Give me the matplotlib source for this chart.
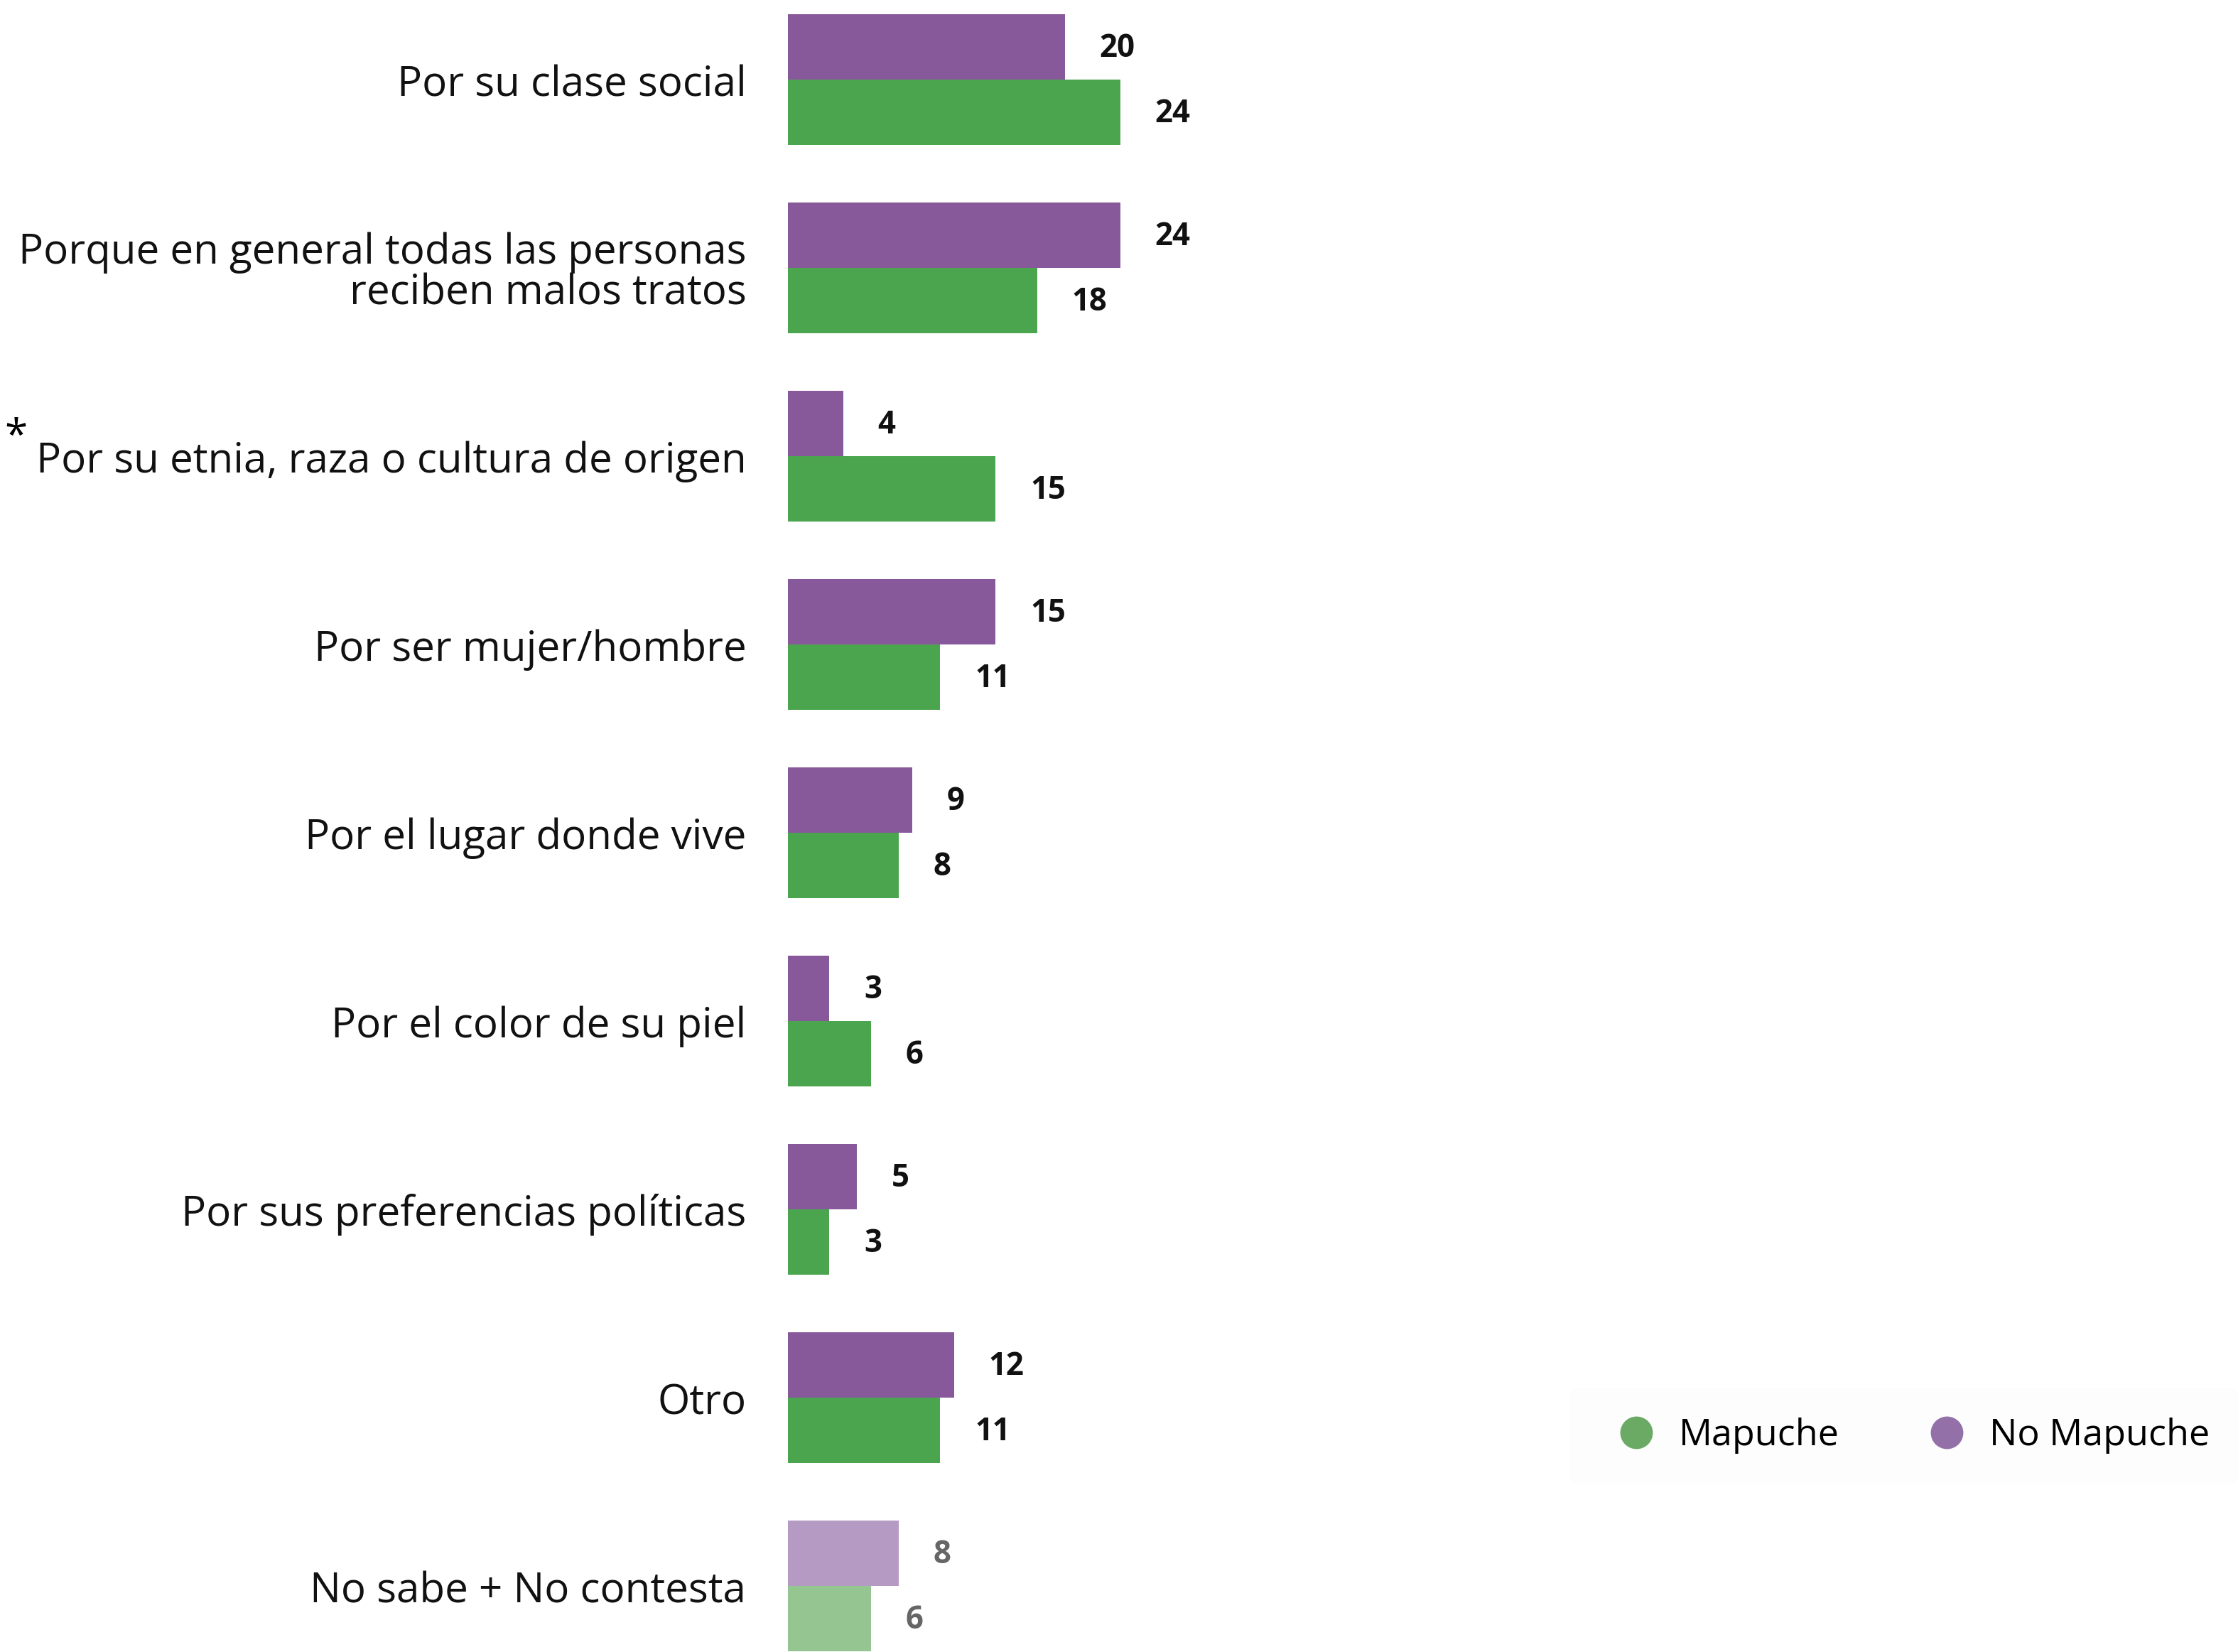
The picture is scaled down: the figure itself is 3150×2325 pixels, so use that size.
import matplotlib.pyplot as plt
from matplotlib.lines import Line2D
import numpy as np

plt.rcParams['font.family'] = ['Open Sans', 'DejaVu Sans']

categories = [
    "Por su clase social",
    "Porque en general todas las personas\nreciben malos tratos",
    "Por su etnia, raza o cultura de origen",
    "Por ser mujer/hombre",
    "Por el lugar donde vive",
    "Por el color de su piel",
    "Por sus preferencias políticas",
    "Otro",
    "No sabe + No contesta",
]
no_mapuche = [20, 24, 4, 15, 9, 3, 5, 12, 8]
mapuche = [24, 18, 15, 11, 8, 6, 3, 11, 6]
starred = [2]
faded = [8]

purple = '#87599a'
green = '#4ba44e'
purple_light = '#b59ac4'
green_light = '#95c692'

fig = plt.figure(figsize=(10.5, 7.75), dpi=300)
ax = fig.add_axes([0.352, 0, 0.648, 1])

h = 0.347
y = np.arange(len(categories))
for i in y:
    pc = purple_light if i in faded else purple
    gc = green_light if i in faded else green
    tc = '#666666' if i in faded else '#111111'
    ax.barh(i - h, no_mapuche[i], height=h, align='edge', color=pc)
    ax.barh(i, mapuche[i], height=h, align='edge', color=gc)
    ax.text(no_mapuche[i] + 2.5, i - h / 2 + 0.01, str(no_mapuche[i]), va='center',
            ha='left', fontsize=10.5, fontweight='bold', color=tc)
    ax.text(mapuche[i] + 2.5, i + h / 2 + 0.01, str(mapuche[i]), va='center',
            ha='left', fontsize=10.5, fontweight='bold', color=tc)
    ax.text(-3.0, i + 0.03, categories[i], ha='right', va='center', fontsize=14,
            color='#111111', linespacing=0.98)

ax.set_xlim(0, 104.7)
ax.set_ylim(8.351, -0.4226)
ax.axis('off')

# asterisk before starred labels
fig.canvas.draw()
r = fig.canvas.get_renderer()
for t in ax.texts:
    for i in starred:
        if t.get_text() == categories[i]:
            bb = t.get_window_extent(r)
            fig.text((bb.x0 - 12) / fig.bbox.width, (bb.y1 + 4) / fig.bbox.height,
                     '*', ha='right', va='center', fontsize=14)

handles = [
    Line2D([], [], marker='o', linestyle='none', markersize=11,
           markerfacecolor='#6aaa64', markeredgecolor='none', label='Mapuche'),
    Line2D([], [], marker='o', linestyle='none', markersize=11,
           markerfacecolor='#9370a8', markeredgecolor='none', label='No Mapuche'),
]
fig.legend(handles=handles, loc='center', bbox_to_anchor=(0.851, 0.131), ncol=2,
           frameon=True, facecolor='#fdfdfd', edgecolor='none', fontsize=12.5,
           handletextpad=0.15, columnspacing=1.9, borderpad=0.8, framealpha=1)

fig.savefig('out.png', dpi=300)
